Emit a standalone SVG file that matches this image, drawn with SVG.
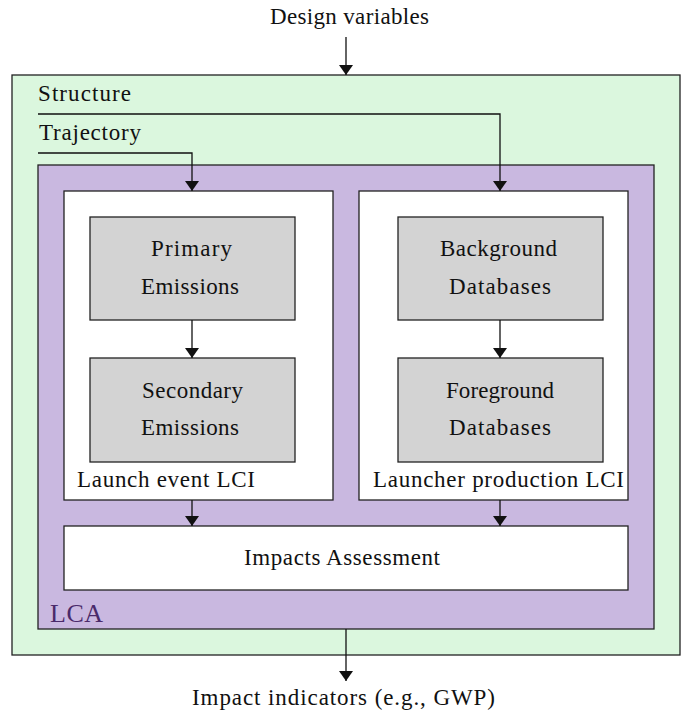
<svg xmlns="http://www.w3.org/2000/svg" width="689" height="713" viewBox="0 0 689 713" font-family="'Liberation Serif', Tinos, 'Times New Roman', 'DejaVu Serif', 'Noto Serif', serif">
  <style>
    text { font-family: "Liberation Serif", Tinos, "Times New Roman", "DejaVu Serif", "Noto Serif", serif; font-size: 23px; fill: #111; }
    .box { stroke: #222; stroke-width: 1.3; }
    .wire { fill: none; stroke: #111; stroke-width: 1.3; }
  </style>
  <defs>
    <marker id="arrow" viewBox="0 0 10 14" refX="10" refY="7" markerWidth="10" markerHeight="14" markerUnits="userSpaceOnUse" orient="auto">
      <path d="M0,0 L10,7 L0,14 Z" fill="#111"/>
    </marker>
  </defs>

  <g id="design-variables">
    <text x="270" y="24" textLength="159">Design variables</text>
  </g>

  <g id="outer">
    <rect class="box" x="12" y="75" width="668" height="580" fill="#dbf7de"/>
    <text x="38" y="101" textLength="93">Structure</text>
    <text x="39" y="140" textLength="102">Trajectory</text>
  </g>

  <g id="lca">
    <rect class="box" x="38" y="165" width="616" height="464" fill="#c9b8e0"/>
    <text x="50" y="622" textLength="53" style="fill:#4a2a6a;font-size:26px">LCA</text>
  </g>

  <g id="launch-event">
    <rect class="box" x="64" y="191" width="269" height="309" fill="#ffffff"/>
    <text x="77" y="487" textLength="178">Launch event LCI</text>
  </g>

  <g id="launcher-production">
    <rect class="box" x="359" y="191" width="269" height="309" fill="#ffffff"/>
    <text x="373" y="487" textLength="251">Launcher production LCI</text>
  </g>

  <g id="primary">
    <rect class="box" x="90" y="217" width="205" height="103" fill="#d3d3d3"/>
    <text x="151" y="256" textLength="81">Primary</text>
    <text x="141" y="294" textLength="98">Emissions</text>
  </g>

  <g id="secondary">
    <rect class="box" x="90" y="358" width="205" height="104" fill="#d3d3d3"/>
    <text x="142" y="398" textLength="101">Secondary</text>
    <text x="141" y="435" textLength="98">Emissions</text>
  </g>

  <g id="background">
    <rect class="box" x="398" y="217" width="205" height="103" fill="#d3d3d3"/>
    <text x="440" y="256" textLength="117">Background</text>
    <text x="449" y="294" textLength="102">Databases</text>
  </g>

  <g id="foreground">
    <rect class="box" x="398" y="358" width="205" height="104" fill="#d3d3d3"/>
    <text x="446" y="398" textLength="108">Foreground</text>
    <text x="449" y="435" textLength="102">Databases</text>
  </g>

  <g id="impacts">
    <rect class="box" x="64" y="526" width="564" height="64" fill="#ffffff"/>
    <text x="244" y="565" textLength="196">Impacts Assessment</text>
  </g>

  <g id="impact-indicators">
    <text x="192" y="705" textLength="303">Impact indicators (e.g., GWP)</text>
  </g>

  <g id="connectors">
    <line class="wire" x1="346" y1="37" x2="346" y2="75" marker-end="url(#arrow)"/>
    <polyline class="wire" points="38,114 500,114 500,191" marker-end="url(#arrow)"/>
    <polyline class="wire" points="38,153 192,153 192,191" marker-end="url(#arrow)"/>
    <line class="wire" x1="192" y1="320" x2="192" y2="358" marker-end="url(#arrow)"/>
    <line class="wire" x1="500" y1="320" x2="500" y2="358" marker-end="url(#arrow)"/>
    <line class="wire" x1="192" y1="500" x2="192" y2="526" marker-end="url(#arrow)"/>
    <line class="wire" x1="500" y1="500" x2="500" y2="526" marker-end="url(#arrow)"/>
    <line class="wire" x1="346" y1="629" x2="346" y2="681" marker-end="url(#arrow)"/>
  </g>
</svg>
